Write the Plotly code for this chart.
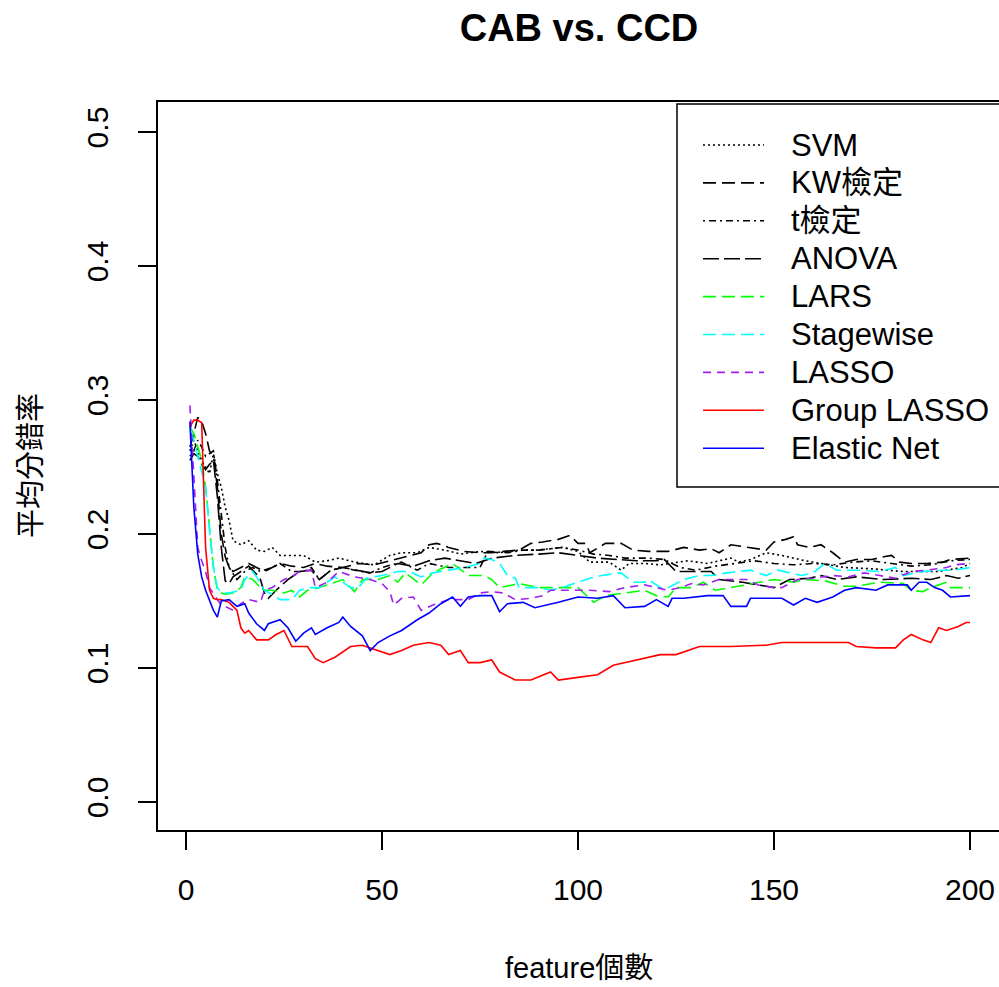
import plotly.graph_objects as go

# ---------------- data ----------------
svm_x = [1,2,3,4,5,6,7,8,9,10,11,12,14,16,18,20,22,24,27,30,33,36,39,43,48,52,55,59,62,66,70,75,80,85,90,96,100,103,108,111,113,117,121,123,128,133,139,141,144,148,152,158,162,168,175,183,188,192,194,198,200]
svm_y = [.262,.27,.262,.255,.25,.245,.26,.245,.235,.22,.21,.195,.192,.195,.188,.187,.19,.184,.184,.184,.179,.18,.182,.179,.177,.184,.186,.186,.19,.188,.185,.187,.186,.188,.188,.19,.187,.179,.179,.173,.178,.178,.177,.178,.18,.178,.182,.179,.181,.186,.184,.18,.178,.175,.174,.172,.172,.172,.173,.175,.178]

kw_x = [1,2,3,4,5,6,7,8,9,10,11,12,14,16,18,20,24,27,30,33,36,40,44,48,52,56,60,62,64,67,71,75,78,81,85,88,91,95,98,100,102,103,107,111,114,118,123,127,131,134,136,139,143,148,150,153,155,156,159,162,165,168,171,175,178,180,182,185,189,193,195,200]
kw_y = [.265,.275,.287,.284,.275,.262,.258,.235,.2,.183,.175,.172,.175,.178,.175,.172,.178,.176,.175,.178,.176,.175,.178,.177,.18,.183,.186,.192,.193,.19,.187,.186,.186,.187,.188,.193,.194,.196,.199,.193,.193,.186,.193,.193,.188,.187,.187,.19,.188,.189,.186,.192,.19,.188,.194,.196,.198,.192,.19,.192,.186,.179,.181,.181,.183,.184,.179,.178,.178,.179,.181,.182]

t_x = [1,2,3,4,5,6,7,8,9,10,11,12,13,15,17,19,22,24,27,30,32,34,37,40,43,47,50,55,59,62,67,72,75,77,82,86,90,96,100,104,108,112,118,122,126,130,135,140,145,150,155,160,165,170,175,180,185,190,195,200]
t_y = [.258,.262,.27,.265,.258,.26,.262,.24,.215,.19,.175,.17,.166,.172,.175,.172,.175,.178,.172,.172,.175,.166,.173,.175,.173,.171,.175,.179,.173,.178,.175,.175,.175,.187,.186,.188,.188,.19,.188,.185,.184,.182,.182,.181,.175,.173,.176,.178,.18,.178,.177,.178,.177,.179,.18,.178,.176,.177,.18,.181]

anova_x = [1,2,3,4,5,6,7,8,9,10,11,12,14,16,18,19,20,21,23,26,29,32,34,37,40,44,47,50,54,58,62,66,70,74,78,84,90,95,100,105,110,115,120,122,125,129,134,136,142,146,150,154,159,162,166,171,178,185,190,194,197,200]
anova_y = [.255,.26,.258,.252,.248,.252,.255,.228,.19,.165,.163,.168,.172,.176,.17,.166,.156,.152,.158,.166,.172,.173,.166,.173,.175,.173,.171,.172,.178,.176,.18,.182,.18,.178,.182,.184,.185,.186,.184,.182,.181,.18,.18,.181,.172,.172,.172,.166,.164,.162,.16,.166,.167,.169,.166,.168,.166,.167,.166,.169,.167,.169]

lars_x = [1,2,3,4,5,6,7,8,9,10,12,14,15,17,19,20,22,25,27,29,31,34,37,40,43,45,49,52,54,56,60,63,68,72,76,78,80,85,90,95,100,104,107,112,117,120,123,125,129,132,135,139,143,147,150,155,158,163,168,171,177,183,185,188,190,194,195,200]
lars_y = [.28,.275,.265,.255,.235,.205,.175,.158,.156,.155,.156,.16,.168,.166,.16,.158,.158,.156,.158,.153,.158,.16,.163,.166,.157,.166,.166,.169,.164,.171,.162,.171,.178,.169,.169,.166,.16,.163,.16,.16,.16,.149,.154,.156,.158,.154,.153,.16,.16,.164,.158,.16,.162,.164,.166,.164,.166,.165,.161,.161,.164,.163,.158,.157,.16,.164,.16,.16]

stage_x = [1,2,3,4,5,6,7,8,9,11,14,15,17,18,20,22,24,27,29,32,34,38,42,44,46,50,54,57,60,63,67,71,75,76,78,80,82,84,85,90,93,96,100,103,106,111,114,117,118,121,123,127,131,134,138,141,144,148,151,154,157,160,163,166,171,177,181,183,188,193,196,200]
stage_y = [.278,.27,.258,.246,.235,.203,.175,.16,.156,.156,.158,.166,.172,.168,.158,.155,.151,.151,.158,.16,.16,.168,.16,.16,.167,.169,.172,.172,.168,.171,.173,.175,.178,.182,.181,.178,.169,.167,.16,.16,.158,.16,.164,.167,.169,.171,.164,.164,.166,.16,.16,.166,.169,.169,.171,.172,.173,.169,.173,.171,.169,.171,.178,.173,.173,.172,.175,.169,.172,.173,.173,.175]

lasso_x = [1,2,3,4,5,6,7,8,9,10,12,14,16,18,19,20,22,25,27,29,32,33,36,39,43,47,50,52,53,55,58,60,63,67,72,75,78,81,84,88,91,93,98,103,108,112,117,120,123,126,129,132,136,139,143,146,150,152,156,160,165,169,173,177,181,185,189,194,196,200]
lasso_y = [.296,.245,.19,.18,.172,.16,.155,.151,.147,.146,.143,.148,.151,.15,.149,.158,.16,.166,.168,.172,.173,.16,.164,.172,.168,.166,.163,.157,.147,.152,.153,.143,.147,.151,.151,.156,.157,.156,.151,.152,.154,.158,.158,.158,.157,.16,.162,.16,.158,.16,.163,.162,.166,.166,.166,.162,.16,.16,.166,.167,.169,.168,.171,.169,.167,.172,.173,.175,.177,.178]

glasso_x = [1,2,3,4,5,6,7,8,9,10,11,12,13,14,15,16,18,21,23,25,27,31,33,35,38,42,45,47,50,52,55,58,62,65,67,70,72,75,78,80,84,88,93,95,100,105,109,115,121,125,131,139,148,152,160,169,171,176,181,183,185,188,190,192,194,197,199,200]
glasso_y = [.28,.285,.285,.283,.19,.158,.152,.151,.151,.15,.149,.146,.143,.13,.126,.128,.121,.121,.125,.128,.116,.116,.107,.104,.108,.116,.117,.115,.112,.11,.113,.117,.119,.117,.11,.113,.104,.104,.106,.097,.091,.091,.097,.091,.093,.095,.102,.106,.11,.11,.116,.116,.117,.119,.119,.119,.116,.115,.115,.121,.125,.121,.119,.13,.128,.131,.134,.134]

enet_x = [1,2,3,4,5,6,7,8,9,11,13,15,16,18,20,21,24,26,28,30,32,33,36,39,40,42,45,47,49,52,55,59,62,65,68,70,72,75,78,80,82,86,89,95,100,105,109,112,117,120,123,124,127,133,137,139,143,144,152,155,158,161,165,168,171,176,179,184,185,187,189,191,193,195,200]
enet_y = [.284,.22,.185,.168,.158,.15,.143,.138,.15,.151,.146,.148,.141,.133,.128,.133,.136,.13,.12,.126,.13,.125,.13,.134,.138,.131,.124,.113,.119,.124,.128,.136,.141,.148,.153,.146,.153,.154,.154,.142,.148,.149,.145,.149,.153,.152,.154,.145,.146,.151,.146,.152,.152,.154,.154,.146,.146,.152,.152,.147,.152,.149,.153,.158,.16,.158,.162,.162,.158,.164,.164,.16,.158,.153,.154]

names = ["SVM", "KW檢定", "t檢定", "ANOVA", "LARS", "Stagewise", "LASSO", "Group LASSO", "Elastic Net"]
xs = [svm_x, kw_x, t_x, anova_x, lars_x, stage_x, lasso_x, glasso_x, enet_x]
ys = [svm_y, kw_y, t_y, anova_y, lars_y, stage_y, lasso_y, glasso_y, enet_y]
colors = ["#000000", "#000000", "#000000", "#000000", "#00FF00", "#00FFFF", "#A020F0", "#FF0000", "#0000FF"]
dashes = ["2px,3px", "13px,6px", "2px,4px,7px,4px", "16px,5px", "13px,6px", "13px,6px", "8px,6px", "solid", "solid"]

x_ticks = [0, 50, 100, 150, 200]
y_ticks = [0.0, 0.1, 0.2, 0.3, 0.4, 0.5]
y_tick_text = ["0.0", "0.1", "0.2", "0.3", "0.4", "0.5"]

FONT = "Liberation Sans, Arial, Noto Sans CJK TC, sans-serif"

W, H = 999, 987
L, R, T, B = 158, 0, 102, 157
pw, ph = W - L - R, H - T - B


def px_x(p):
    return (p - L) / pw


def px_y(p):
    return 1 - (p - T) / ph


fig = go.Figure()
for n, x, y, c, d in zip(names, xs, ys, colors, dashes):
    fig.add_trace(go.Scatter(x=x, y=y, mode="lines", name=n, showlegend=False,
                             line=dict(color=c, width=1.6, dash=d)))

# legend (boxed, R style): sample line + label for each series
shapes = [dict(type="rect", xref="paper", yref="paper",
               x0=px_x(677), x1=1.05, y0=px_y(487), y1=px_y(104),
               line=dict(color="black", width=1.5), fillcolor="rgba(0,0,0,0)", layer="below")]
annotations = []
for i, (n, c, d) in enumerate(zip(names, colors, dashes)):
    yy = 145 + i * 37.9
    shapes.append(dict(type="line", xref="paper", yref="paper",
                       x0=px_x(703), x1=px_x(764), y0=px_y(yy), y1=px_y(yy),
                       line=dict(color=c, width=1.6, dash=d)))
    annotations.append(dict(text=n, xref="paper", yref="paper", x=px_x(789), y=px_y(yy),
                            xanchor="left", yanchor="middle", showarrow=False,
                            font=dict(size=31, family=FONT, color="black")))

annotations += [
    dict(text="feature個數", xref="paper", yref="paper", x=px_x(579), y=px_y(968),
         xanchor="center", yanchor="middle", showarrow=False, font=dict(size=29, family=FONT)),
    dict(text="平均分錯率", xref="paper", yref="paper", x=px_x(31), y=px_y(466),
         xanchor="center", yanchor="middle", showarrow=False, textangle=-90,
         font=dict(size=29, family=FONT)),
]

fig.update_layout(
    width=W, height=H,
    margin=dict(l=L, r=R, t=T, b=B, pad=0),
    paper_bgcolor="white", plot_bgcolor="white",
    font=dict(family=FONT, size=29, color="black"),
    title=dict(text="<b>CAB vs. CCD</b>", x=579 / W, xanchor="center",
               y=1 - 28 / H, yanchor="middle", yref="container",
               font=dict(size=38, family=FONT, color="black")),
    showlegend=False,
    xaxis=dict(range=[-7.14, -7.14 + pw / 3.92], tickvals=x_ticks,
               showgrid=False, zeroline=False, showline=True, mirror=True,
               linecolor="black", linewidth=1.5, ticks="outside", ticklen=18,
               tickwidth=1.5, tickcolor="black", ticklabelstandoff=14,
               tickfont=dict(size=30, family=FONT)),
    yaxis=dict(range=[-0.0209, 0.5224], tickvals=y_ticks, ticktext=y_tick_text,
               showgrid=False, zeroline=False, showline=True, mirror=False,
               linecolor="black", linewidth=1.5, ticks="outside", ticklen=18,
               tickwidth=1.5, tickcolor="black", tickangle=-90, ticklabelstandoff=18,
               tickfont=dict(size=30, family=FONT)),
    shapes=shapes,
    annotations=annotations,
)

fig.write_html("out.html")
